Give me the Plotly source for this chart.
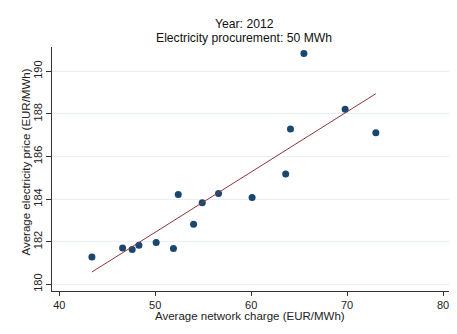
import numpy as np
import plotly.graph_objects as go

# Data
network_charge = [43.4, 46.6, 47.6, 48.3, 50.1, 51.9, 52.4, 54.0, 54.9, 56.6,
                  60.1, 63.6, 64.1, 65.5, 69.8, 73.0]
electricity_price = [181.28, 181.70, 181.63, 181.83, 181.96, 181.68, 184.21, 182.82,
                     183.83, 184.26, 184.08, 185.18, 187.29, 190.83, 188.22, 187.12]
x_ticks = [40, 50, 60, 70, 80]
y_ticks = [180, 182, 184, 186, 188, 190]
title_lines = ["Year: 2012", "Electricity procurement: 50 MWh"]
x_title = "Average network charge (EUR/MWh)"
y_title = "Average electricity price (EUR/MWh)"

x = np.array(network_charge)
y = np.array(electricity_price)
slope, intercept = np.polyfit(x, y, 1)
fit_x = np.array([x.min(), x.max()])
fit_y = slope * fit_x + intercept

# page body has an 8px margin, so the figure is 8px smaller than the window
W, H = 449, 326
L, R, T, B = 44, 7, 39, 43
pw, ph = W - L - R, H - T - B

FONT = "Liberation Sans, Arial, sans-serif"

fig = go.Figure()
fig.add_trace(go.Scatter(x=x, y=y, mode="markers",
                         marker=dict(color="#1A476F", size=7, line=dict(width=0)),
                         showlegend=False, hoverinfo="skip"))
fig.add_trace(go.Scatter(x=fit_x, y=fit_y, mode="lines",
                         line=dict(color="#90353B", width=1),
                         showlegend=False, hoverinfo="skip"))

tick_font = dict(family=FONT, size=11, color="#222")
ann_font = dict(family=FONT, size=11.5, color="#222")

def px(xf):
    return (xf - L) / pw

def py(yf):
    return (H - B - yf) / ph

annotations = [
    dict(text=title_lines[0], x=px(236), y=py(16), xref="paper", yref="paper",
         showarrow=False, xanchor="center", yanchor="middle",
         font=dict(family=FONT, size=12.2, color="#111")),
    dict(text=title_lines[1], x=px(236), y=py(29.5), xref="paper", yref="paper",
         showarrow=False, xanchor="center", yanchor="middle",
         font=dict(family=FONT, size=12.2, color="#111")),
    dict(text=x_title, x=px(242), y=py(307.5), xref="paper", yref="paper",
         showarrow=False, xanchor="center", yanchor="middle", font=ann_font),
    dict(text=y_title, x=px(17), y=py(154.5), xref="paper", yref="paper",
         showarrow=False, xanchor="center", yanchor="middle", textangle=-90,
         font=ann_font),
]

fig.update_layout(
    width=W, height=H,
    margin=dict(l=L, r=R, t=T, b=B),
    paper_bgcolor="white", plot_bgcolor="white",
    font=tick_font,
    annotations=annotations,
    xaxis=dict(range=[39.24, 80.73], tickvals=x_ticks, showgrid=False, zeroline=False,
               showline=True, linecolor="#333", linewidth=1, automargin=False,
               ticks="outside", ticklen=4, tickcolor="#333", tickfont=tick_font),
    yaxis=dict(range=[179.685, 191.14], tickvals=y_ticks, showgrid=True,
               gridcolor="#E6EFF1", gridwidth=1, zeroline=False, automargin=False,
               showline=True, linecolor="#333", linewidth=1,
               ticks="outside", ticklen=5, tickcolor="#333", tickangle=-90,
               tickfont=tick_font),
)

fig.write_html("out.html")
